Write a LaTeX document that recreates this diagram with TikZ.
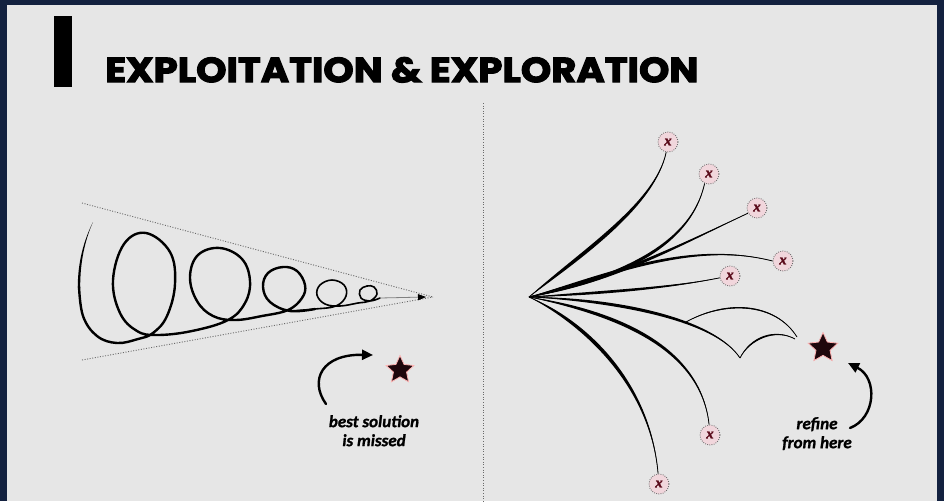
\documentclass[tikz,border=0pt]{standalone}
\usepackage{fontspec}
\usepackage{graphicx}
\usetikzlibrary{arrows.meta,shapes.geometric,calc}
\newfontfamily\titlefont{Poppins}[BoldFeatures={FakeBold=3}]
\newfontfamily\labfont{Carlito}[BoldItalicFeatures={FakeBold=1.2}]
\newfontfamily\xfont{Liberation Serif}[BoldItalicFeatures={FakeBold=1.5}]
\definecolor{navy}{HTML}{13213F}
\definecolor{panel}{HTML}{E6E6E6}
\definecolor{starfill}{HTML}{1E070C}
\definecolor{xred}{HTML}{5A0A1A}
\definecolor{xfill}{HTML}{F1D6DC}
\definecolor{dotgray}{HTML}{6A6A6A}
\tikzset{
  guide/.style={dotgray, line width=0.9pt, dash pattern=on 1pt off 1.6pt},
  loopline/.style={line width=2.4pt, line cap=round, line join=round},
  marker/.style={circle, minimum size=20pt, inner sep=0pt, fill=xfill, draw=dotgray,
    line width=0.9pt, dash pattern=on 0.8pt off 1.4pt,
    font=\xfont\bfseries\itshape\fontsize{15}{15}\selectfont, text=xred},
  beststar/.style={star, star points=5, star point ratio=2.1, minimum size=29pt,
    inner sep=0pt, fill=starfill, draw=red!30, line width=0.8pt},
  note/.style={font=\labfont\bfseries\itshape\fontsize{17}{19}\selectfont,
    align=center, text=black, inner sep=0pt, anchor=north},
  curvedarrow/.style={line width=2.4pt, line cap=round, -{Triangle[length=11pt,width=10pt]}},
}
\newcommand\tapered[5]{%
  \fill (#1) .. controls ($(#2)!#5!90:(#4)$) and ($(#3)!0.3*#5!90:(#4)$) .. (#4)
    .. controls ($(#3)!0.3*#5!-90:(#4)$) and ($(#2)!#5!-90:(#4)$) .. (#1) -- cycle;
  \draw[line width=0.8pt] (#1) .. controls (#2) and (#3) .. (#4);}
\begin{document}
\begin{tikzpicture}[x=1pt,y=-1pt]
\useasboundingbox (0,0) rectangle (944,501);
\fill[navy] (0,0) rectangle (944,501);
\fill[panel] (7,5) rectangle (937,501);
% title
\fill[black] (54,16) rectangle (72,87);
\node[anchor=north west, inner sep=0pt] (title) at (105,57)
  {\resizebox{593pt}{25pt}{\titlefont\bfseries EXPLOITATION \& EXPLORATION}};
% divider
\draw[guide] (483,103) -- (483,501);
% ---------- left: exploitation ----------
\coordinate (apex) at (433,297);
\coordinate (ul) at (82,203);
\coordinate (ll) at (82,360);
\draw[guide] (ul) -- (apex);
\draw[guide] (ll) -- (apex);
\fill (93,222) .. controls (84,240) and (77.6,262) .. (77.8,288) -- (80.2,288)
  .. controls (80,262) and (85,240) .. (93,222);
\draw[loopline] plot[smooth, tension=0.65] coordinates {
 (79,286) (83,316) (97,336) (117,343) (138,339) (153,333) (167,316) (175,284) (170,252)
 (146,233) (124,244) (113,280) (120,313) (137,331) (157,335) (192,331) (228,320) (245,303)
 (250,281) (242,259) (220,248) (198,255) (190,277) (197,301) (213,316) (235,320) (262,316)
 (288,310) (302,298) (305,285) (297,271) (283,267) (268,273) (263,287) (270,302) (290,311)
 (315,309)};
\draw[line width=1.6pt, line cap=round, line join=round] plot[smooth, tension=0.65] coordinates {
 (290,311) (315,309) (336,306) (346,296) (344,285) (332,280) (320,285) (317,295) (325,304)
 (340,306) (358,303) (370,301) (377,294) (374,287) (367,286) (360,290) (361,298) (370,301)
 (380,298)};
\coordinate (tailstart) at (380,298);
\coordinate (tailend) at (426,297);
\draw[gray, line width=0.8pt, -{Triangle[length=8pt,width=6pt,color=black]}] (tailstart) -- (tailend);
\node[beststar] (star1) at (400,370) {};
\coordinate (a1s) at (326,404);
\coordinate (a1e) at (373,355);
\draw[curvedarrow] (a1s) .. controls (309,380) and (322,354) .. (a1e);
\node[note] (lbl1) at (374,415) {best solution\\is missed};
% ---------- right: exploration ----------
\coordinate (root) at (529,297);
\node[marker] (x1) at (668,142) {x};
\node[marker] (x2) at (709,174) {x};
\node[marker] (x3) at (757,208) {x};
\node[marker] (x4) at (783,261) {x};
\node[marker] (x5) at (730,276) {x};
\node[marker] (x6) at (710,435) {x};
\node[marker] (x7) at (659,484) {x};
\tapered{root}{580,255}{655,205}{x1.260}{3.8pt}
\tapered{root}{610,280}{690,250}{x2.245}{3.6pt}
\tapered{root}{610,282}{680,245}{x3.210}{3pt}
\tapered{root}{610,275}{690,240}{x4.180}{3pt}
\tapered{root}{600,293}{670,288}{x5.190}{2.6pt}
\coordinate (r6end) at (740,358);
\path (root) .. controls (620,300) and (715,320) .. coordinate[pos=0.62] (fork) (r6end);
\tapered{root}{620,300}{715,320}{r6end}{3.2pt}
\coordinate (r6a) at (797,337);
\coordinate (r6b) at (795,339);
\tapered{fork}{725,300}{775,302}{r6a}{1.6pt}
\tapered{r6end}{750,338}{775,328}{r6b}{2pt}
\tapered{root}{600,310}{700,340}{x6.95}{3.8pt}
\tapered{root}{580,320}{650,380}{x7.95}{3.8pt}
\node[beststar, minimum size=31pt] (star2) at (823,348) {};
\coordinate (a2s) at (850,428);
\coordinate (a2e) at (848,363);
\draw[curvedarrow] (a2s) .. controls (876,418) and (878,378) .. (a2e);
\node[note] (lbl2) at (817,417) {refine\\from here};
\end{tikzpicture}
\end{document}
